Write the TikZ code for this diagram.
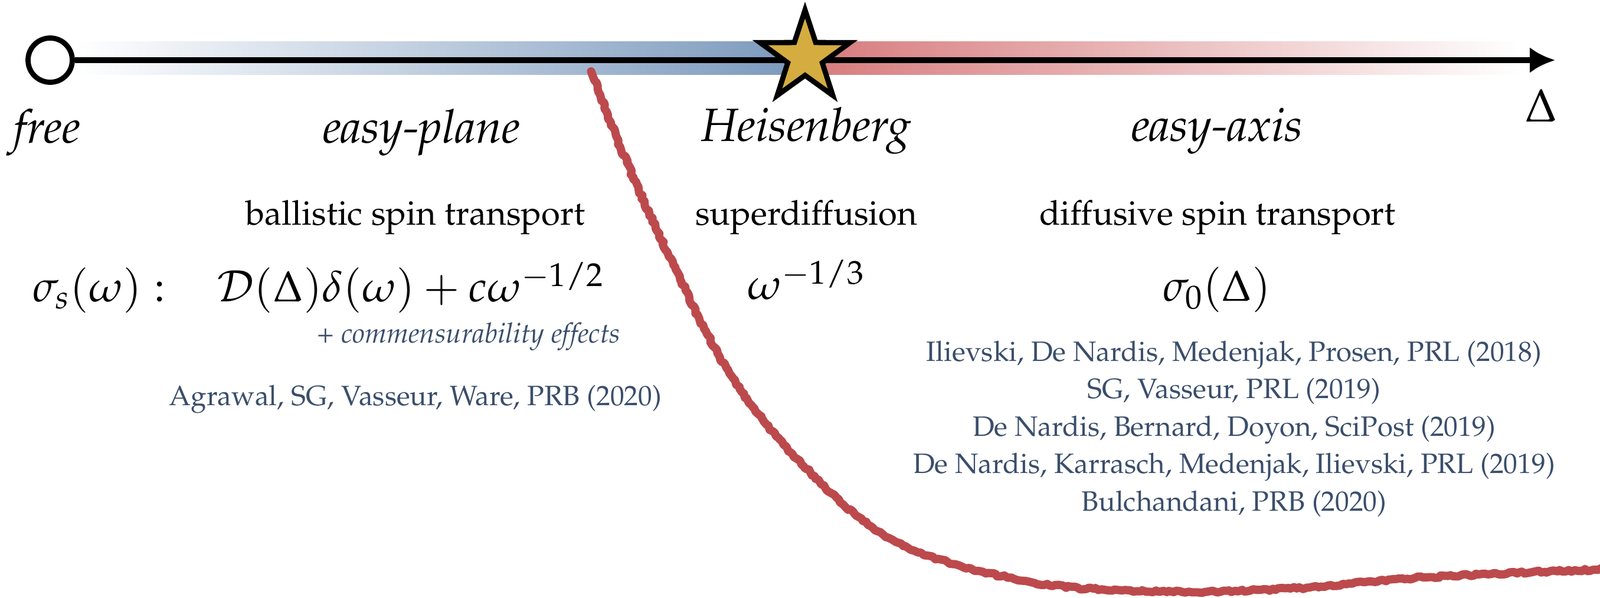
\documentclass[tikz,border=0pt]{standalone}
\usepackage[T1]{fontenc}
\usepackage{mathpazo}
\usepackage{amsmath}
\usetikzlibrary{positioning,arrows.meta,shapes.geometric,decorations.pathmorphing}
\definecolor{bandblue}{RGB}{122,152,188}
\definecolor{bandred}{RGB}{214,122,124}
\definecolor{cutred}{RGB}{188,74,77}
\definecolor{refblue}{RGB}{58,78,107}
\definecolor{stargold}{RGB}{212,172,64}

\begin{document}
\begin{tikzpicture}[
    phase/.style={font=\fontsize{22.5}{26}\selectfont\itshape,anchor=base,inner sep=0pt},
    regime/.style={font=\fontsize{16.5}{19}\selectfont,anchor=base,inner sep=0pt},
    formula/.style={font=\fontsize{21}{25}\selectfont,anchor=base,inner sep=0pt},
    note/.style={font=\fontsize{13.5}{16}\selectfont\itshape,text=refblue,anchor=base east,inner sep=0pt},
    refs/.style={font=\fontsize{13.5}{18.1}\selectfont,text=refblue,align=center,inner sep=0pt},
    axis/.style={line width=3pt,-{Latex[length=4.3mm,width=4.4mm]}},
  ]
  \useasboundingbox (0,0) rectangle (27.11,10.13);
  % bands
  \shade[left color=white,right color=bandblue] (1.27,8.86) rectangle (13.64,9.42);
  \shade[left color=bandred,right color=white] (13.64,8.86) rectangle (25.78,9.42);
  % crossover line
  \draw[cutred,line width=4pt,line join=round,line cap=round,
        decorate,decoration={random steps,segment length=1.5pt,amplitude=0.6pt}]
    plot[smooth,tension=0.6] coordinates {(10.03,8.88) (10.62,7.38) (11.41,5.64)
      (12.31,3.89) (13.43,2.43) (15.12,0.98) (17.37,0.28) (19.61,0.10)
      (21.86,0.15) (24.11,0.34) (27.3,0.48)};
  % axis
  \node[circle,draw,line width=2.5pt,fill=white,minimum size=0.75cm,inner sep=0pt] (freept) at (0.85,9.11) {};
  \coordinate (tip) at (26.35,9.11);
  \draw[axis] (freept) -- (tip);
  \node[star,star points=5,star point ratio=2.6,draw,line width=2.5pt,fill=stargold,
        minimum size=1.6cm,inner sep=0pt] (heispt) at (13.64,9.16) {};

  \node[phase] (free) at (0.80,7.70) {free};
  \node[phase] (easyplane) at (7.14,7.70) {easy-plane};
  \node[phase] (heis) at (13.66,7.73) {Heisenberg};
  \node[phase] (easyaxis) at (20.62,7.73) {easy-axis};
  \node[phase] (delta) at (26.11,8.06) {$\Delta$};

  \node[regime] (ballistic) at (7.04,6.31) {ballistic spin transport};
  \node[regime] (superdiff) at (13.66,6.31) {superdiffusion};
  \node[regime] (diffusive) at (20.63,6.31) {diffusive spin transport};

  \node[formula,anchor=base west] (sigma) at (0.55,5.01) {$\sigma_s(\omega):$};
  \node[formula,anchor=base west] (ballform) at (3.67,5.01) {$\mathcal{D}(\Delta)\delta(\omega)+c\omega^{-1/2}$};
  \node[formula] (superform) at (13.66,5.05) {$\omega^{-1/3}$};
  \node[formula] (diffform) at (20.62,5.02) {$\sigma_0(\Delta)$};

  \node[note] (commens) at (10.52,4.31) {+ commensurability effects};
  \node[refs,anchor=base] (ballref) at (7.04,3.25) {Agrawal, SG, Vasseur, Ware, PRB (2020)};
  \node[refs,anchor=north] (diffrefs) at (20.91,4.36) {Ilievski, De Nardis, Medenjak, Prosen, PRL (2018)\\
    SG, Vasseur, PRL (2019)\\ De Nardis, Bernard, Doyon, SciPost (2019)\\
    De Nardis, Karrasch, Medenjak, Ilievski, PRL (2019)\\ Bulchandani, PRB (2020)};
\end{tikzpicture}
\end{document}
